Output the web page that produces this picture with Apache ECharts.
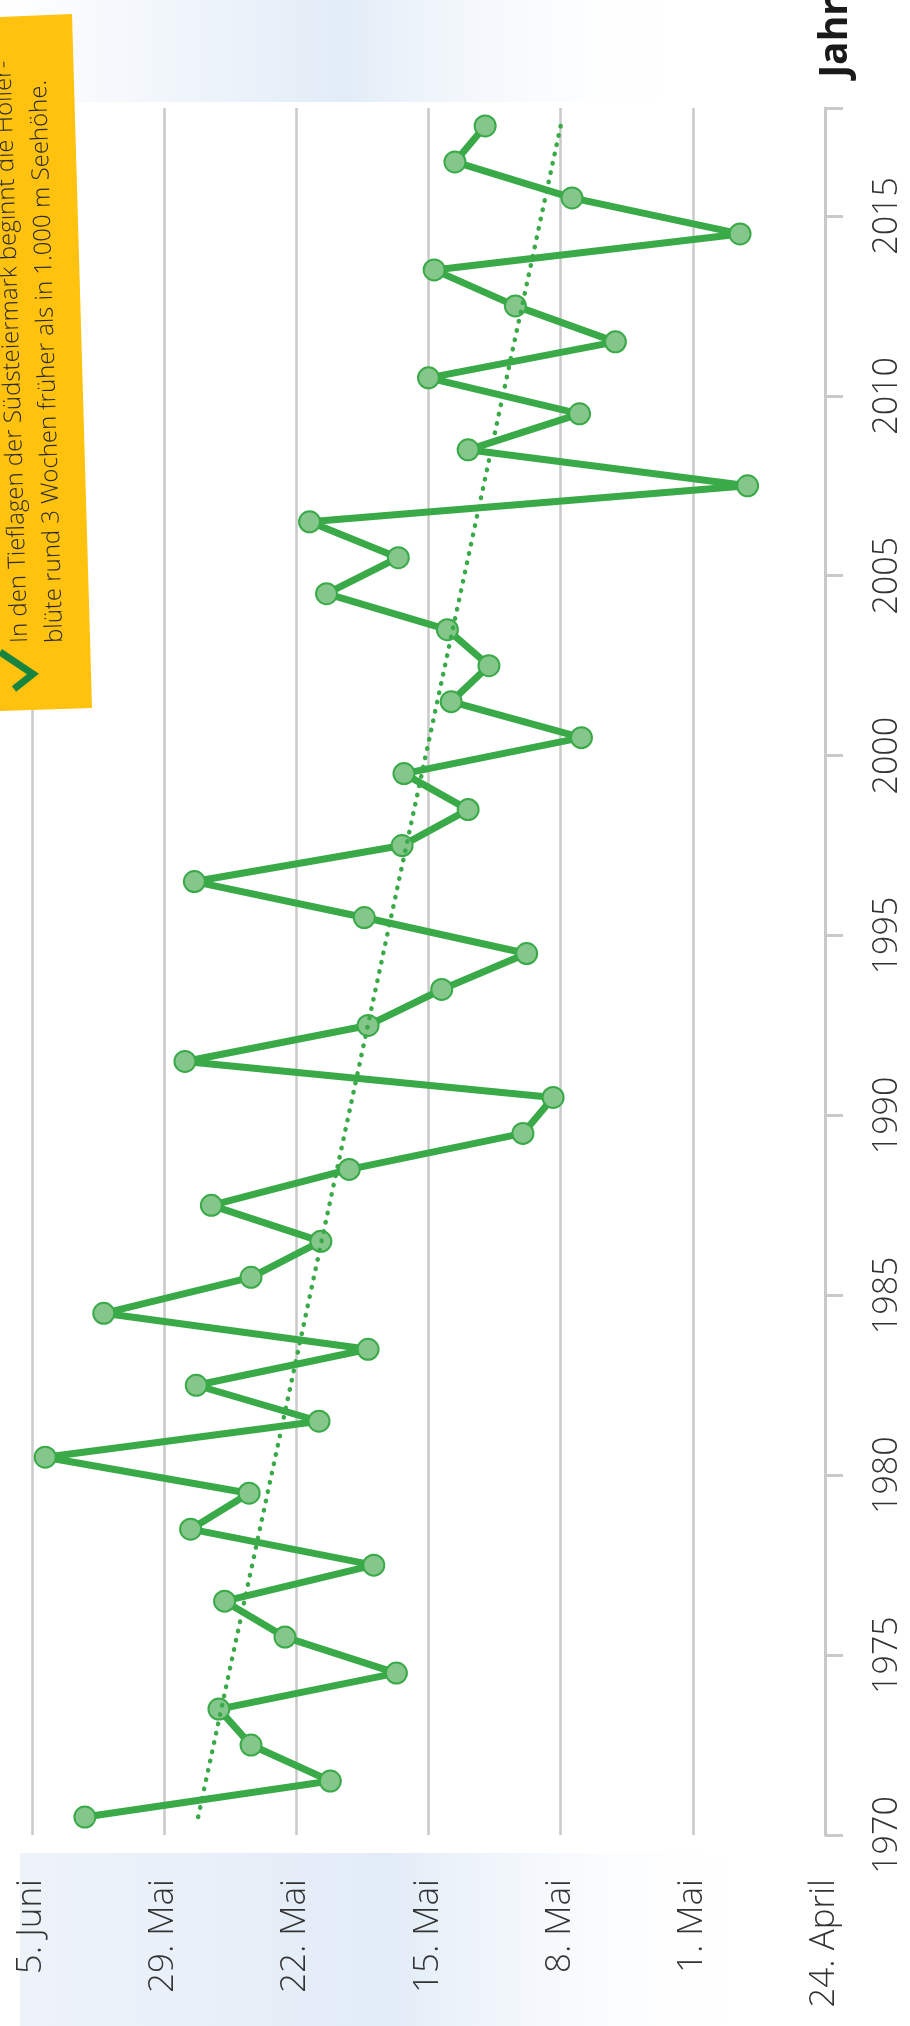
<!DOCTYPE html>
<html>
<head>
<meta charset="utf-8">
<script src="https://cdn.jsdelivr.net/npm/echarts@6/dist/echarts.min.js"></script>
<style>
  html, body { margin: 0; padding: 0; background: #fff; }
  #main { width: 910px; height: 2026px; }
</style>
</head>
<body>
<div id="main"></div>
<script>
  // Holunderblüte: Tage nach dem 24. April, je Jahr
  const years = [1970, 1971, 1972, 1973, 1974, 1975, 1976, 1977, 1978, 1979,
    1980, 1981, 1982, 1983, 1984, 1985, 1986, 1987, 1988, 1989,
    1990, 1991, 1992, 1993, 1994, 1995, 1996, 1997, 1998, 1999,
    2000, 2001, 2002, 2003, 2004, 2005, 2006, 2007, 2008, 2009,
    2010, 2011, 2012, 2013, 2014, 2015, 2016, 2017]
  const bloomDays = [39.2, 26.2, 30.4, 32.1, 22.7, 28.6, 31.8, 23.9, 33.6, 30.5,
    41.3, 26.8, 33.3, 24.2, 38.2, 30.4, 26.7, 32.5, 25.2, 16.0,
    14.4, 33.9, 24.2, 20.3, 15.8, 24.4, 33.4, 22.4, 18.9, 22.3,
    12.9, 19.8, 17.8, 20.0, 26.4, 22.6, 27.3, 4.1, 18.9, 13.0,
    21.0, 11.1, 16.4, 20.7, 4.5, 13.4, 19.6, 18.0]
  const trendYears = [1970, 2017]
  const trendDays = [33.2, 14.0]
  const dateTicks = [0, 7, 14, 21, 28, 35, 42]
  const dateLabels = ['24. April', '1. Mai', '8. Mai', '15. Mai', '22. Mai', '29. Mai', '5. Juni']
  const noteLines = [
    'In den Tieflagen der Südsteiermark beginnt die Holler-',
    'blüte rund 3 Wochen früher als in 1.000 m Seehöhe.'
  ]

  const green = '#3aaa49'
  const font = '"Open Sans Light", "Open Sans", "Noto Sans", sans-serif'
  const boldFont = '"Open Sans", "Noto Sans", sans-serif'
  const tilt = 0.029

  let chart = echarts.init(document.getElementById('main'))

  let bandFill = function (a, b) {
    return new echarts.graphic.LinearGradient(0, 0, 1, 0, [
      { offset: 0, color: a },
      { offset: 0.5, color: '#e2ecf7' },
      { offset: 1, color: b }
    ])
  }

  let option = {
    animation: false,
    backgroundColor: '#fff',
    grid: { left: 32, right: 85, top: 108, bottom: 191 },
    xAxis: {
      type: 'value',
      inverse: true,
      min: 0,
      max: 42,
      interval: 7,
      axisLine: { show: false },
      axisTick: { show: false },
      splitLine: { show: true, lineStyle: { color: '#c9c9c9', width: 2.5 } },
      axisLabel: {
        rotate: 90,
        margin: 44,
        fontFamily: font,
        fontWeight: 300,
        fontSize: 35,
        color: '#333',
        formatter: function (v) {
          return dateLabels[dateTicks.indexOf(v)]
        }
      }
    },
    yAxis: {
      type: 'value',
      position: 'right',
      min: 1970,
      max: 2018,
      interval: 5,
      splitLine: { show: false },
      axisLine: { show: true, lineStyle: { color: '#c9c9c9', width: 3 } },
      axisTick: { show: true, inside: false, length: 18, lineStyle: { color: '#c9c9c9', width: 3 } },
      axisLabel: {
        rotate: 90,
        margin: 46,
        fontFamily: font,
        fontWeight: 300,
        fontSize: 34,
        color: '#333',
        formatter: function (v) {
          return v <= 2015 ? String(v) : ''
        }
      }
    },
    graphic: [
      {
        type: 'rect', z: -1, silent: true,
        shape: { x: 0, y: 0, width: 690, height: 102 },
        style: { fill: bandFill('#ffffff', 'rgba(255,255,255,0)') }
      },
      {
        type: 'rect', z: -1, silent: true,
        shape: { x: 20, y: 1853, width: 740, height: 173 },
        style: { fill: bandFill('#eef3fa', 'rgba(255,255,255,0)') }
      },
      {
        type: 'text', z: 10,
        x: 836, y: -2, rotation: Math.PI / 2,
        style: {
          text: 'Jahr', fill: '#1a1a1a',
          font: 'bold 39px ' + boldFont,
          align: 'right', verticalAlign: 'middle'
        }
      },
      {
        type: 'polygon', z: 100,
        shape: { points: [[0, 17], [72, 14], [92, 708], [0, 711]] },
        style: { fill: '#ffc20f' }
      },
      {
        type: 'polyline', z: 101,
        shape: { points: [[0, 652], [33, 674], [14, 689]] },
        style: { stroke: '#17853f', lineWidth: 7, fill: null, lineJoin: 'miter' }
      },
      {
        type: 'text', z: 101,
        x: 21, y: 643, rotation: Math.PI / 2 + tilt,
        style: {
          text: noteLines[0], fill: '#2a2a2a',
          font: '300 24px ' + font,
          align: 'left', verticalAlign: 'middle'
        }
      },
      {
        type: 'text', z: 101,
        x: 56, y: 643, rotation: Math.PI / 2 + tilt,
        style: {
          text: noteLines[1], fill: '#2a2a2a',
          font: '300 24px ' + font,
          align: 'left', verticalAlign: 'middle'
        }
      }
    ],
    series: [
      {
        name: 'Holunderblüte',
        type: 'line',
        z: 3,
        data: years.map(function (y, i) { return [bloomDays[i], y + 0.5] }),
        symbol: 'circle',
        symbolSize: 21,
        itemStyle: { color: '#85c78b', borderColor: green, borderWidth: 2 },
        lineStyle: { color: green, width: 7 }
      },
      {
        name: 'Trend',
        type: 'line',
        z: 4,
        data: trendYears.map(function (y, i) { return [trendDays[i], y + 0.5] }),
        symbol: 'none',
        lineStyle: { color: green, width: 4.5, type: [0.5, 9], cap: 'round' }
      }
    ]
  }

  chart.setOption(option)
</script>
</body>
</html>
